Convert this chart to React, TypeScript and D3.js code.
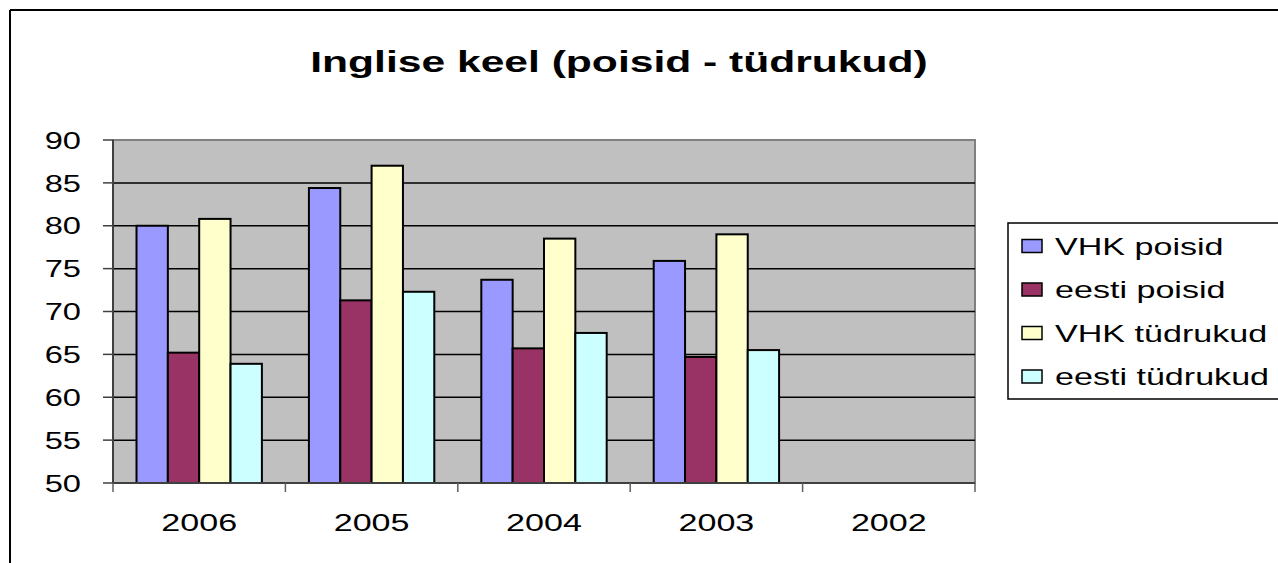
import React from "react";
import * as d3 from "d3";

const categories = ["2006", "2005", "2004", "2003", "2002"];
const seriesNames = ["VHK poisid", "eesti poisid", "VHK tüdrukud", "eesti tüdrukud"];
const vhkPoisid: (number | null)[] = [80.0, 84.4, 73.7, 75.9, null];
const eestiPoisid: (number | null)[] = [65.2, 71.3, 65.7, 64.7, null];
const vhkTudrukud: (number | null)[] = [80.8, 87.0, 78.5, 79.0, null];
const eestiTudrukud: (number | null)[] = [63.9, 72.3, 67.5, 65.5, null];
const seriesColors = ["#9999FF", "#993366", "#FFFFCC", "#CCFFFF"];
const yTicks = [50, 55, 60, 65, 70, 75, 80, 85, 90];

const W = 1278;
const H = 563;
const plot = { left: 113, right: 975, top: 140, bottom: 483 };
const font = "'Liberation Sans', Arial, sans-serif";
const SX = 1.42;

function T(props: { x: number; y: number; anchor?: string; size: number; bold?: boolean; sx?: number; dy?: string; children: React.ReactNode }) {
  const { x, y, anchor = "start", size, bold, sx = SX, dy, children } = props;
  return (
    <text
      transform={`translate(${x},${y}) scale(${sx},1)`}
      textAnchor={anchor}
      fontSize={size}
      fontWeight={bold ? "bold" : "normal"}
      dy={dy}
      fill="#000"
    >
      {children}
    </text>
  );
}

export default function App() {
  const series = [vhkPoisid, eestiPoisid, vhkTudrukud, eestiTudrukud];
  const x = d3.scaleBand<string>().domain(categories).range([plot.left, plot.right]).paddingInner(0).paddingOuter(0);
  const y = d3.scaleLinear().domain([50, 90]).range([plot.bottom, plot.top]);
  const bw = x.bandwidth();
  const barW = bw / (4 + 1.5);
  const gap = (bw - 4 * barW) / 2;
  const inner = d3.scaleBand<number>().domain([0, 1, 2, 3]).range([gap, gap + 4 * barW]).padding(0);

  return (
    <svg width={W} height={H} style={{ position: "absolute", left: 0, top: 0, background: "#fff" }} fontFamily={font}>
      {/* outer chart border */}
      <line x1={10} y1={10} x2={W} y2={10} stroke="#000" strokeWidth={2} />
      <line x1={10} y1={10} x2={10} y2={H} stroke="#000" strokeWidth={2} />

      <T x={619} y={72} anchor="middle" size={30} bold>
        Inglise keel (poisid - tüdrukud)
      </T>

      {/* plot area */}
      <rect x={plot.left} y={plot.top} width={plot.right - plot.left} height={plot.bottom - plot.top} fill="#C0C0C0" stroke="#808080" strokeWidth={2} />
      {yTicks.map((t) =>
        t === 50 || t === 90 ? null : (
          <line key={"g" + t} x1={plot.left} x2={plot.right} y1={y(t)} y2={y(t)} stroke="#000" strokeWidth={1.5} />
        )
      )}

      {/* bars */}
      {categories.map((c, ci) =>
        series.map((s, si) => {
          const v = s[ci];
          if (v == null) return null;
          const bx = (x(c) as number) + (inner(si) as number);
          return (
            <rect key={c + si} x={bx} y={y(v)} width={barW} height={y(50) - y(v)} fill={seriesColors[si]} stroke="#000" strokeWidth={2} />
          );
        })
      )}

      {/* y axis */}
      <line x1={plot.left} x2={plot.left} y1={plot.top} y2={plot.bottom} stroke="#404040" strokeWidth={2} />
      {yTicks.map((t) => (
        <g key={"yt" + t}>
          <line x1={plot.left - 10} x2={plot.left} y1={y(t)} y2={y(t)} stroke="#404040" strokeWidth={1.5} />
          <T x={81} y={y(t)} dy="0.36em" anchor="end" size={24} sx={1.36}>
            {t}
          </T>
        </g>
      ))}

      {/* x axis */}
      <line x1={plot.left} x2={plot.right} y1={plot.bottom} y2={plot.bottom} stroke="#404040" strokeWidth={2} />
      {[...categories.map((c) => x(c) as number), plot.right].map((px, i) => (
        <line key={"xt" + i} x1={px} x2={px} y1={plot.bottom} y2={plot.bottom + 9} stroke="#606060" strokeWidth={1.5} />
      ))}
      {categories.map((c) => (
        <T key={"xl" + c} x={(x(c) as number) + bw / 2} y={531} anchor="middle" size={24}>
          {c}
        </T>
      ))}

      {/* legend */}
      <rect x={1008} y={223} width={300} height={176} fill="#fff" stroke="#000" strokeWidth={1.5} />
      {seriesNames.map((n, i) => {
        const cy = 246 + i * 43.5;
        return (
          <g key={"lg" + n}>
            <rect x={1022} y={cy - 6.5} width={20} height={13} fill={seriesColors[i]} stroke="#000" strokeWidth={1.5} />
            <T x={1055} y={cy} dy="0.36em" size={24}>
              {n}
            </T>
          </g>
        );
      })}
    </svg>
  );
}
